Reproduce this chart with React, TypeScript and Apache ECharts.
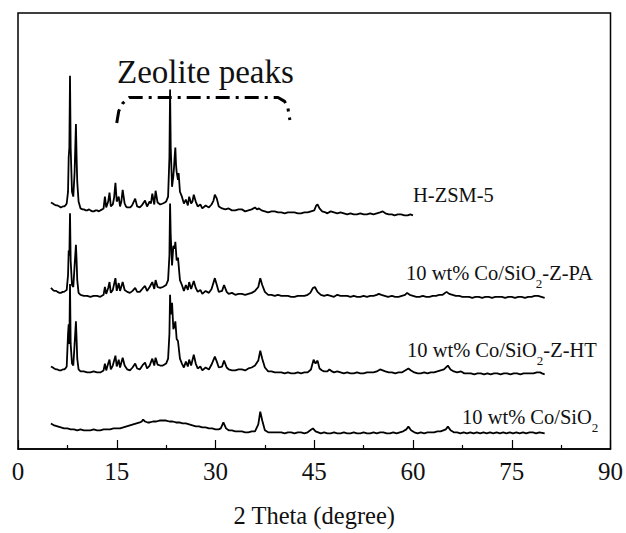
import React, { useEffect, useRef } from "react";
import * as echarts from "echarts";

// 2θ (degree) vs. relative intensity (a.u.) for each sample
const hzsm5: number[][] = [
  [5.0, 13], [5.3, 12], [5.5, 11], [5.8, 10], [6.0, 10], [6.3, 9], [6.5, 8], [6.8, 9], [7.0, 9], [7.2, 10], [7.4, 12],
  [7.6, 24], [7.7, 59], [7.8, 69], [7.9, 142], [8.0, 69], [8.2, 24], [8.4, 19], [8.6, 44], [8.8, 93], [8.9, 59],
  [9.0, 34], [9.2, 14], [9.5, 7], [9.8, 6], [10.0, 6], [10.3, 5], [10.5, 5], [10.8, 6], [11.0, 5], [11.3, 4],
  [11.5, 4], [11.8, 5], [12.0, 5], [12.3, 4], [12.5, 5], [12.8, 6], [13.0, 7], [13.2, 19], [13.4, 8], [13.7, 14],
  [13.9, 23], [14.1, 9], [14.4, 11], [14.6, 18], [14.8, 33], [15.0, 14], [15.3, 19], [15.5, 9], [15.7, 14],
  [15.9, 26], [16.2, 12], [16.4, 9], [16.6, 8], [17.0, 8], [17.2, 9], [17.4, 11], [17.8, 17], [18.1, 9], [18.5, 8],
  [18.8, 10], [19.0, 12], [19.3, 15], [19.6, 9], [20.0, 14], [20.2, 12], [20.4, 22], [20.7, 11], [20.9, 25],
  [21.2, 13], [21.6, 11], [22.0, 12], [22.3, 13], [22.5, 14], [22.8, 19], [23.0, 59], [23.1, 128], [23.2, 69],
  [23.4, 29], [23.6, 40], [23.7, 49], [23.8, 60], [23.9, 69], [24.0, 52], [24.1, 44], [24.3, 36], [24.4, 43],
  [24.6, 24], [24.9, 19], [25.2, 12], [25.5, 16], [25.8, 10], [26.0, 19], [26.3, 12], [26.5, 14], [26.7, 21],
  [27.0, 14], [27.3, 9], [27.7, 11], [28.0, 7], [28.5, 10], [29.0, 8], [29.4, 11], [29.7, 15], [29.9, 21],
  [30.2, 17], [30.5, 9], [31.0, 7], [31.5, 6], [32.0, 7], [32.5, 5], [33.0, 5], [33.5, 6], [34.0, 6], [34.5, 4],
  [35.0, 5], [35.5, 6], [36.0, 8], [36.3, 6], [36.6, 7], [37.0, 5], [37.5, 4], [38.0, 3], [38.5, 4], [39.0, 4],
  [39.5, 3], [40.0, 3], [40.5, 2], [41.0, 3], [41.5, 3], [42.0, 3], [42.5, 2], [43.0, 2], [43.5, 3], [44.0, 3],
  [44.5, 4], [45.0, 5], [45.3, 10], [45.5, 11], [45.8, 7], [46.2, 4], [46.7, 3], [47.0, 2], [47.5, 4], [48.0, 3],
  [48.5, 2], [49.0, 3], [49.5, 2], [50.0, 1], [50.5, 2], [51.0, 1], [51.5, 1], [52.0, 2], [52.5, 1], [53.0, 1],
  [53.5, 2], [54.0, 1], [54.5, 2], [55.0, 3], [55.4, 4], [55.8, 2], [56.3, 1], [56.8, 1], [57.2, 0], [57.7, 1],
  [58.2, 1], [58.7, 0], [59.2, 0], [59.6, 1], [60.0, 0],
];

const coSio2ZPA: number[][] = [
  [5.0, 10], [5.3, 8], [5.5, 7], [5.8, 7], [6.0, 6], [6.3, 5], [6.5, 5], [6.8, 6], [7.0, 6], [7.2, 7], [7.4, 8],
  [7.6, 23], [7.7, 48], [7.8, 43], [7.9, 86], [8.0, 38], [8.2, 13], [8.4, 11], [8.6, 33], [8.8, 54], [8.9, 38],
  [9.0, 18], [9.2, 5], [9.5, 3], [10.0, 2], [10.5, 2], [11.0, 1], [11.5, 2], [12.0, 2], [12.5, 1], [13.0, 3],
  [13.2, 11], [13.4, 4], [13.7, 10], [13.9, 16], [14.1, 5], [14.4, 8], [14.8, 20], [15.0, 7], [15.3, 15],
  [15.5, 7], [15.9, 16], [16.2, 8], [16.6, 6], [17.0, 5], [17.4, 7], [17.8, 10], [18.1, 6], [18.5, 6], [19.0, 10],
  [19.3, 12], [19.6, 7], [20.0, 11], [20.4, 16], [20.7, 9], [20.9, 18], [21.2, 11], [21.6, 10], [22.0, 11],
  [22.5, 13], [22.8, 18], [23.0, 43], [23.1, 96], [23.2, 63], [23.4, 33], [23.6, 53], [23.8, 50], [23.9, 57],
  [24.1, 38], [24.3, 41], [24.6, 18], [24.9, 13], [25.2, 7], [25.5, 13], [25.8, 8], [26.0, 16], [26.3, 9],
  [26.7, 17], [27.0, 10], [27.3, 6], [27.7, 8], [28.0, 4], [28.5, 7], [29.0, 5], [29.4, 9], [29.9, 20], [30.2, 13],
  [30.5, 6], [31.0, 7], [31.3, 13], [31.7, 6], [32.0, 4], [32.5, 5], [33.0, 3], [33.5, 4], [34.0, 4], [34.5, 3],
  [35.0, 4], [35.5, 5], [36.0, 7], [36.5, 11], [36.8, 20], [37.1, 13], [37.5, 6], [38.0, 3], [38.5, 3], [39.0, 2],
  [39.5, 3], [40.0, 2], [40.5, 2], [41.0, 2], [41.5, 1], [42.0, 1], [42.5, 2], [43.0, 2], [43.5, 2], [44.0, 3],
  [44.4, 5], [44.8, 10], [45.1, 11], [45.5, 6], [46.0, 3], [46.5, 2], [47.0, 3], [47.5, 2], [48.0, 1], [48.5, 3],
  [49.0, 2], [49.5, 2], [50.0, 2], [50.5, 1], [51.0, 2], [51.5, 1], [52.0, 1], [52.5, 2], [53.0, 1], [53.5, 2],
  [54.0, 2], [54.5, 3], [54.8, 4], [55.2, 3], [55.7, 2], [56.2, 1], [56.8, 2], [57.3, 1], [57.8, 1], [58.3, 2],
  [58.8, 3], [59.1, 5], [59.5, 3], [60.0, 2], [60.5, 1], [61.0, 1], [61.5, 2], [62.0, 1], [62.5, 1], [63.0, 2],
  [63.5, 2], [64.0, 3], [64.5, 3], [65.1, 6], [65.5, 4], [66.0, 3], [66.5, 2], [67.0, 2], [67.5, 1], [68.0, 1],
  [68.5, 1], [69.0, 0], [69.5, 1], [70.0, 1], [70.5, 0], [71.0, 1], [71.5, 1], [72.0, 0], [72.5, 1], [73.0, 1],
  [73.5, 1], [74.0, 0], [74.5, 1], [75.0, 1], [75.5, 0], [76.0, 1], [76.5, 1], [77.0, 0], [77.5, 1], [78.0, 1],
  [78.5, 2], [79.0, 2], [79.5, 1], [80.0, 0],
];

const coSio2ZHT: number[][] = [
  [5.0, 8], [5.3, 7], [5.5, 6], [5.8, 5], [6.0, 5], [6.3, 4], [6.5, 4], [6.8, 5], [7.0, 5], [7.2, 6], [7.4, 8],
  [7.6, 41], [7.7, 51], [7.8, 31], [7.9, 92], [8.0, 31], [8.2, 11], [8.4, 9], [8.6, 31], [8.8, 54], [8.9, 36],
  [9.0, 16], [9.2, 5], [9.5, 3], [10.0, 3], [10.5, 2], [11.0, 2], [11.5, 3], [12.0, 2], [12.5, 2], [13.0, 4],
  [13.2, 11], [13.4, 4], [13.7, 11], [13.9, 15], [14.1, 5], [14.4, 9], [14.8, 19], [15.0, 8], [15.3, 15],
  [15.5, 7], [15.9, 17], [16.2, 9], [16.6, 5], [17.0, 4], [17.4, 7], [17.8, 11], [18.1, 6], [18.5, 5], [19.0, 10],
  [19.3, 12], [19.6, 6], [20.0, 9], [20.4, 16], [20.7, 9], [20.9, 17], [21.2, 10], [21.6, 9], [22.0, 9],
  [22.5, 11], [22.8, 16], [23.0, 41], [23.1, 81], [23.2, 61], [23.4, 73], [23.6, 46], [23.8, 50], [23.9, 54],
  [24.1, 36], [24.3, 34], [24.6, 16], [24.9, 11], [25.2, 7], [25.5, 13], [25.8, 8], [26.0, 15], [26.3, 9],
  [26.7, 20], [27.0, 11], [27.3, 6], [27.7, 8], [28.0, 4], [28.5, 7], [29.0, 5], [29.4, 10], [29.9, 18],
  [30.2, 13], [30.5, 7], [31.0, 8], [31.3, 14], [31.7, 7], [32.0, 5], [32.5, 4], [33.0, 4], [33.5, 5], [34.0, 5],
  [34.5, 4], [35.0, 6], [35.5, 7], [36.0, 9], [36.5, 14], [36.8, 24], [37.1, 16], [37.5, 7], [38.0, 3], [38.5, 3],
  [39.0, 2], [39.5, 2], [40.0, 2], [40.5, 1], [41.0, 2], [41.5, 1], [42.0, 1], [42.5, 2], [43.0, 1], [43.5, 2],
  [44.0, 2], [44.5, 5], [44.9, 15], [45.2, 11], [45.5, 14], [45.8, 6], [46.2, 4], [46.5, 3], [47.0, 3], [47.3, 5],
  [47.7, 3], [48.0, 2], [48.5, 3], [49.0, 2], [49.5, 1], [50.0, 2], [50.5, 1], [51.0, 1], [51.5, 2], [52.0, 1],
  [52.5, 1], [53.0, 2], [53.5, 2], [54.0, 2], [54.5, 3], [55.0, 5], [55.4, 4], [55.8, 3], [56.3, 2], [56.8, 2],
  [57.3, 1], [57.8, 2], [58.3, 2], [58.8, 4], [59.3, 6], [59.7, 4], [60.2, 2], [60.7, 1], [61.2, 1], [61.7, 2],
  [62.2, 1], [62.7, 2], [63.2, 2], [63.7, 3], [64.2, 4], [64.7, 5], [65.3, 9], [65.7, 5], [66.2, 3], [66.7, 2],
  [67.3, 3], [67.8, 1], [68.3, 1], [68.8, 1], [69.3, 0], [69.8, 1], [70.3, 1], [70.8, 0], [71.3, 1], [71.8, 0],
  [72.3, 1], [72.8, 1], [73.3, 0], [73.8, 1], [74.3, 1], [74.8, 0], [75.3, 1], [75.8, 1], [76.3, 0], [76.8, 1],
  [77.3, 1], [77.8, 1], [78.3, 1], [78.8, 2], [79.3, 2], [79.6, 1], [80.0, 0],
];

const coSio2: number[][] = [
  [5.0, 10], [5.5, 8], [6.0, 7], [6.5, 6], [7.0, 5], [7.5, 5], [8.0, 4], [8.5, 4], [9.0, 3], [9.5, 4], [10.0, 3],
  [10.5, 3], [11.0, 3], [11.5, 4], [12.0, 3], [12.5, 3], [13.0, 4], [13.5, 4], [14.0, 4], [14.5, 5], [15.0, 5],
  [15.5, 5], [16.0, 6], [16.5, 7], [17.0, 8], [17.5, 9], [18.0, 10], [18.5, 11], [18.8, 12], [19.0, 14],
  [19.3, 12], [19.7, 11], [20.0, 11], [20.5, 12], [21.0, 12], [21.5, 13], [22.0, 13], [22.5, 13], [23.0, 12],
  [23.5, 12], [24.0, 11], [24.5, 11], [25.0, 10], [25.5, 10], [26.0, 9], [26.5, 8], [27.0, 7], [27.5, 7],
  [28.0, 6], [28.5, 6], [29.0, 5], [29.5, 5], [30.0, 4], [30.5, 4], [30.8, 5], [31.2, 11], [31.6, 5], [32.0, 3],
  [32.5, 3], [33.0, 2], [33.5, 2], [34.0, 2], [34.5, 1], [35.0, 1], [35.5, 2], [36.0, 2], [36.5, 9], [36.8, 22],
  [37.1, 13], [37.5, 3], [38.0, 1], [38.5, 1], [39.0, 1], [39.5, 1], [40.0, 1], [40.5, 0], [41.0, 1], [41.5, 1],
  [42.0, 0], [42.5, 1], [43.0, 1], [43.5, 0], [44.0, 1], [44.4, 3], [44.8, 5], [45.2, 2], [45.6, 1], [46.0, 0],
  [46.5, 1], [47.0, 0], [47.5, 0], [48.0, 1], [48.5, 0], [49.0, 0], [49.5, 1], [50.0, 0], [50.5, 0], [51.0, 1],
  [51.5, 0], [52.0, 0], [52.5, 1], [53.0, 0], [53.5, 0], [54.0, 1], [54.5, 0], [55.0, 1], [55.5, 1], [56.0, 0],
  [56.5, 0], [57.0, 1], [57.5, 0], [58.0, 1], [58.5, 2], [59.0, 4], [59.3, 7], [59.7, 3], [60.2, 1], [60.7, 0],
  [61.2, 1], [61.7, 0], [62.2, 1], [62.7, 1], [63.2, 1], [63.7, 2], [64.2, 2], [64.6, 3], [65.0, 4], [65.3, 7],
  [65.7, 3], [66.2, 1], [66.7, 1], [67.2, 0], [67.7, 1], [68.2, 0], [68.7, 1], [69.2, 0], [69.7, 1], [70.2, 0],
  [70.7, 1], [71.2, 0], [71.7, 1], [72.2, 0], [72.7, 1], [73.2, 0], [73.7, 1], [74.2, 0], [74.7, 1], [75.2, 0],
  [75.7, 1], [76.2, 0], [76.7, 1], [77.2, 0], [77.7, 1], [78.2, 1], [78.7, 0], [79.2, 1], [80.0, 0],
];

// vertical stacking offsets (a.u.) and sample names
const offsets = [238, 154, 76, 16];
const sampleNames = ["H-ZSM-5", "10 wt% Co/SiO2-Z-PA", "10 wt% Co/SiO2-Z-HT", "10 wt% Co/SiO2"];
const patterns = [hzsm5, coSio2ZPA, coSio2ZHT, coSio2];

// dash-dot bracket marking the zeolite reflections (2θ, a.u.)
const bracket: number[][] = [
  [15.0, 332], [15.3, 344], [15.9, 352], [16.9, 358], [39.5, 358], [40.5, 354], [41.0, 347], [41.3, 335],
];

const xTicks = { min: 0, max: 90, interval: 15 };

const FONT = "'Liberation Serif', 'Times New Roman', serif";

export default function App() {
  const ref = useRef<HTMLDivElement>(null);

  useEffect(() => {
    if (!ref.current) return;
    const chart = echarts.init(ref.current, null, { renderer: "svg" });

    const traceSeries = patterns.map((p, i) => ({
      name: sampleNames[i],
      type: "line",
      data: p.map(([x, y]) => [x, y + offsets[i]]),
      showSymbol: false,
      symbol: "none",
      lineStyle: { color: "#000", width: 1.8 },
      z: 3,
    }));

    const richBase = {
      n: { fontSize: 20.5, fontFamily: FONT, color: "#111", lineHeight: 24 },
      s: { fontSize: 13, fontFamily: FONT, color: "#111", lineHeight: 34, verticalAlign: "bottom" },
    };

    const label = (txt: string, left: number, top: number) => {
      const parts = txt.split("SiO2");
      const rich =
        parts.length > 1 ? `{n|${parts[0]}SiO}{s|2}{n|${parts[1]}}` : `{n|${txt}}`;
      return {
        type: "text",
        left,
        top,
        z: 10,
        style: { text: rich, rich: richBase, fill: "#111" },
      };
    };

    chart.setOption({
      animation: false,
      backgroundColor: "#fff",
      grid: {
        left: 18,
        right: 13,
        top: 13,
        bottom: 76,
        show: true,
        borderColor: "#000",
        borderWidth: 1.5,
        backgroundColor: "transparent",
      },
      xAxis: {
        type: "value",
        min: xTicks.min,
        max: xTicks.max,
        interval: xTicks.interval,
        name: "2 Theta (degree)",
        nameLocation: "middle",
        nameGap: 54,
        nameTextStyle: { fontFamily: FONT, fontSize: 24.5, color: "#111" },
        axisLine: { show: true, lineStyle: { color: "#000", width: 1.5 } },
        axisTick: { show: true, inside: true, length: 9, lineStyle: { color: "#000", width: 1.2 } },
        minorTick: { show: true, splitNumber: 2, length: 4, lineStyle: { color: "#000", width: 1.2 } },
        axisLabel: { fontFamily: FONT, fontSize: 25, color: "#111", margin: 10 },
        splitLine: { show: false },
      },
      yAxis: {
        type: "value",
        min: 0,
        max: 444,
        show: false,
        splitLine: { show: false },
      },
      series: [
        ...traceSeries,
        {
          name: "bracket",
          type: "line",
          data: bracket,
          showSymbol: false,
          symbol: "none",
          lineStyle: { color: "#000", width: 3, type: [14, 6, 3, 6], cap: "butt" },
          z: 2,
        },
      ],
      graphic: [
        {
          type: "text",
          left: 117,
          top: 55,
          z: 10,
          style: { text: "Zeolite peaks", font: `33px ${FONT}`, fill: "#111" },
        },
        label(sampleNames[0], 413, 184),
        label(sampleNames[1], 406, 262),
        label(sampleNames[2], 407, 339),
        label(sampleNames[3], 462, 406),
      ],
    });

    return () => chart.dispose();
  }, []);

  return (
    <div
      ref={ref}
      style={{ position: "fixed", left: 0, top: 0, width: 626, height: 533 }}
    />
  );
}
